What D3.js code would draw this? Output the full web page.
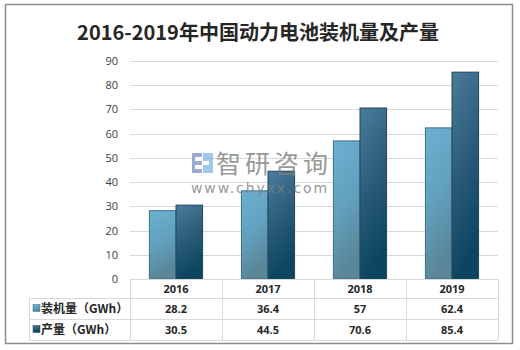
<!DOCTYPE html>
<html>
<head>
<meta charset="utf-8">
<script src="https://cdn.jsdelivr.net/npm/d3@7"></script>
<style>
  body { margin: 0; background: #fff; }
  svg text { font-family: "Noto Sans CJK SC", "Open Sans", sans-serif; }
</style>
</head>
<body>
<svg id="chart" width="520" height="350"></svg>
<script>
// chart data
const years = ['2016', '2017', '2018', '2019'];
const seriesNames = ['装机量（GWh）', '产量（GWh）'];
const installed = [28.2, 36.4, 57, 62.4];
const production = [30.5, 44.5, 70.6, 85.4];
const yTicks = [0, 10, 20, 30, 40, 50, 60, 70, 80, 90];

const sizes = {width: 520, height: 350, left: 130, right: 498, top: 61, bottom: 279};

function drawChart() {
    const {width, height, left, right, top, bottom} = sizes;
    const svg = d3.select('#chart');
    const defs = svg.append('defs');

    // bar gradients
    const grads = [
        {id: 'g1', stops: ['#6db0d0', '#62a2c0', '#5a8698']},
        {id: 'g2', stops: ['#4a7c9c', '#2c5d7a', '#0b4560']}
    ];
    grads.forEach(g => {
        const lg = defs.append('linearGradient')
            .attr('id', g.id)
            .attr('x1', 0).attr('y1', 0).attr('x2', 0.25).attr('y2', 1);
        g.stops.forEach((c, i) => lg.append('stop')
            .attr('offset', i / (g.stops.length - 1))
            .attr('stop-color', c));
    });

    // outer frame
    svg.append('rect')
        .attr('x', 5.5).attr('y', 4.5)
        .attr('width', 507).attr('height', 339)
        .attr('fill', '#fff')
        .attr('stroke', '#8c8c8c')
        .attr('stroke-width', 1.5);

    // title
    svg.append('text')
        .attr('x', 258).attr('y', 40)
        .attr('text-anchor', 'middle')
        .attr('font-size', 20)
        .attr('font-weight', 'bold')
        .attr('fill', '#262626')
        .text('2016-2019年中国动力电池装机量及产量');

    let xScale = d3.scaleBand()
        .domain(years)
        .range([left, right]);

    let xInner = d3.scaleBand()
        .domain([0, 1])
        .range([0, xScale.bandwidth()])
        .paddingInner(0)
        .paddingOuter(0.73);

    let yScale = d3.scaleLinear()
        .domain([0, 90])
        .range([bottom, top]);

    // gridlines
    svg.append('g')
        .selectAll('line')
        .data(yTicks.slice(1))
        .enter()
        .append('line')
            .attr('x1', left).attr('x2', right)
            .attr('y1', d => Math.round(yScale(d)) + 0.5)
            .attr('y2', d => Math.round(yScale(d)) + 0.5)
            .attr('stroke', '#d9d9d9');

    // y axis labels
    let yAxis = d3.axisLeft(yScale)
        .tickValues(yTicks)
        .tickSize(0)
        .tickPadding(12);
    let yG = svg.append('g')
        .attr('transform', `translate(${left}, 0)`)
        .call(yAxis);
    yG.select('.domain').remove();
    yG.selectAll('text')
        .attr('font-size', 11)
        .attr('fill', '#404040')
        .style('font-family', '"Open Sans", sans-serif');

    // bars
    const series = [installed, production];
    const strokes = ['#3d6f8c', '#23465e'];
    series.forEach((vals, si) => {
        svg.append('g')
            .selectAll('rect')
            .data(vals)
            .enter()
            .append('rect')
                .attr('x', (d, i) => xScale(years[i]) + xInner(si))
                .attr('width', xInner.bandwidth())
                .attr('y', d => yScale(d))
                .attr('height', d => bottom - yScale(d))
                .attr('fill', `url(#g${si + 1})`)
                .attr('stroke', strokes[si])
                .attr('stroke-width', 1);
    });

    // watermark
    const wm = svg.append('g').attr('opacity', 0.8);
    wm.append('rect').attr('x', 192).attr('y', 153).attr('width', 10).attr('height', 20).attr('fill', '#8595c4');
    wm.append('rect').attr('x', 203).attr('y', 153).attr('width', 10).attr('height', 20).attr('fill', '#86bce6');
    wm.append('rect').attr('x', 195).attr('y', 157).attr('width', 7).attr('height', 4).attr('fill', '#fff');
    wm.append('rect').attr('x', 195).attr('y', 165).attr('width', 7).attr('height', 4).attr('fill', '#fff');
    wm.append('rect').attr('x', 203).attr('y', 161).attr('width', 6).attr('height', 4).attr('fill', '#fff');
    wm.append('text')
        .attr('x', 216).attr('y', 173)
        .attr('font-size', 25)
        .attr('fill', '#7f7f7f')
        .attr('letter-spacing', 4)
        .text('智研咨询');
    wm.append('text')
        .attr('x', 191).attr('y', 193)
        .attr('font-size', 14)
        .attr('letter-spacing', 1.9)
        .attr('fill', '#7f7f7f')
        .style('font-family', '"DejaVu Sans", sans-serif')
        .text('www.chyxx.com');

    // data table
    const rowY = [279, 298, 319, 340];
    const tableLeft = 29;
    const t = svg.append('g').attr('stroke', '#d9d9d9').attr('stroke-width', 1);
    // horizontal lines
    t.append('line').attr('x1', left).attr('x2', right).attr('y1', rowY[0] + 0.5).attr('y2', rowY[0] + 0.5);
    rowY.slice(1).forEach(y => {
        t.append('line').attr('x1', tableLeft).attr('x2', right).attr('y1', y + 0.5).attr('y2', y + 0.5);
    });
    // vertical lines
    t.append('line').attr('x1', tableLeft + 0.5).attr('x2', tableLeft + 0.5).attr('y1', rowY[1]).attr('y2', rowY[3]);
    years.forEach(yr => {
        const x = Math.round(xScale(yr)) + 0.5;
        t.append('line').attr('x1', x).attr('x2', x).attr('y1', rowY[0]).attr('y2', rowY[3]);
    });
    t.append('line').attr('x1', right + 0.5).attr('x2', right + 0.5).attr('y1', rowY[0]).attr('y2', rowY[3]);

    // header years
    svg.append('g')
        .selectAll('text')
        .data(years)
        .enter()
        .append('text')
            .attr('x', d => xScale(d) + xScale.bandwidth() / 2)
            .attr('y', (rowY[0] + rowY[1]) / 2 + 4)
            .attr('text-anchor', 'middle')
            .attr('font-size', 11)
            .attr('font-weight', 'bold')
            .attr('fill', '#262626')
            .style('font-family', '"Open Sans", sans-serif')
            .text(d => d);

    // value rows with legend keys
    const keyFills = ['url(#g1)', 'url(#g2)'];
    series.forEach((vals, si) => {
        const cy = (rowY[si + 1] + rowY[si + 2]) / 2;
        svg.append('rect')
            .attr('x', 33).attr('y', cy - 4)
            .attr('width', 7).attr('height', 7)
            .attr('fill', keyFills[si])
            .attr('stroke', strokes[si])
            .attr('stroke-width', 0.5);
        svg.append('text')
            .attr('x', 41).attr('y', cy + 4)
            .attr('font-size', 12)
            .attr('font-weight', 'bold')
            .attr('fill', '#262626')
            .text(seriesNames[si]);
        svg.append('g')
            .selectAll('text')
            .data(vals)
            .enter()
            .append('text')
                .attr('x', (d, i) => xScale(years[i]) + xScale.bandwidth() / 2)
                .attr('y', cy + 4)
                .attr('text-anchor', 'middle')
                .attr('font-size', 11)
                .attr('font-weight', 'bold')
                .attr('fill', '#262626')
                .style('font-family', '"Open Sans", sans-serif')
                .text(d => d);
    });
}

drawChart();
</script>
</body>
</html>
